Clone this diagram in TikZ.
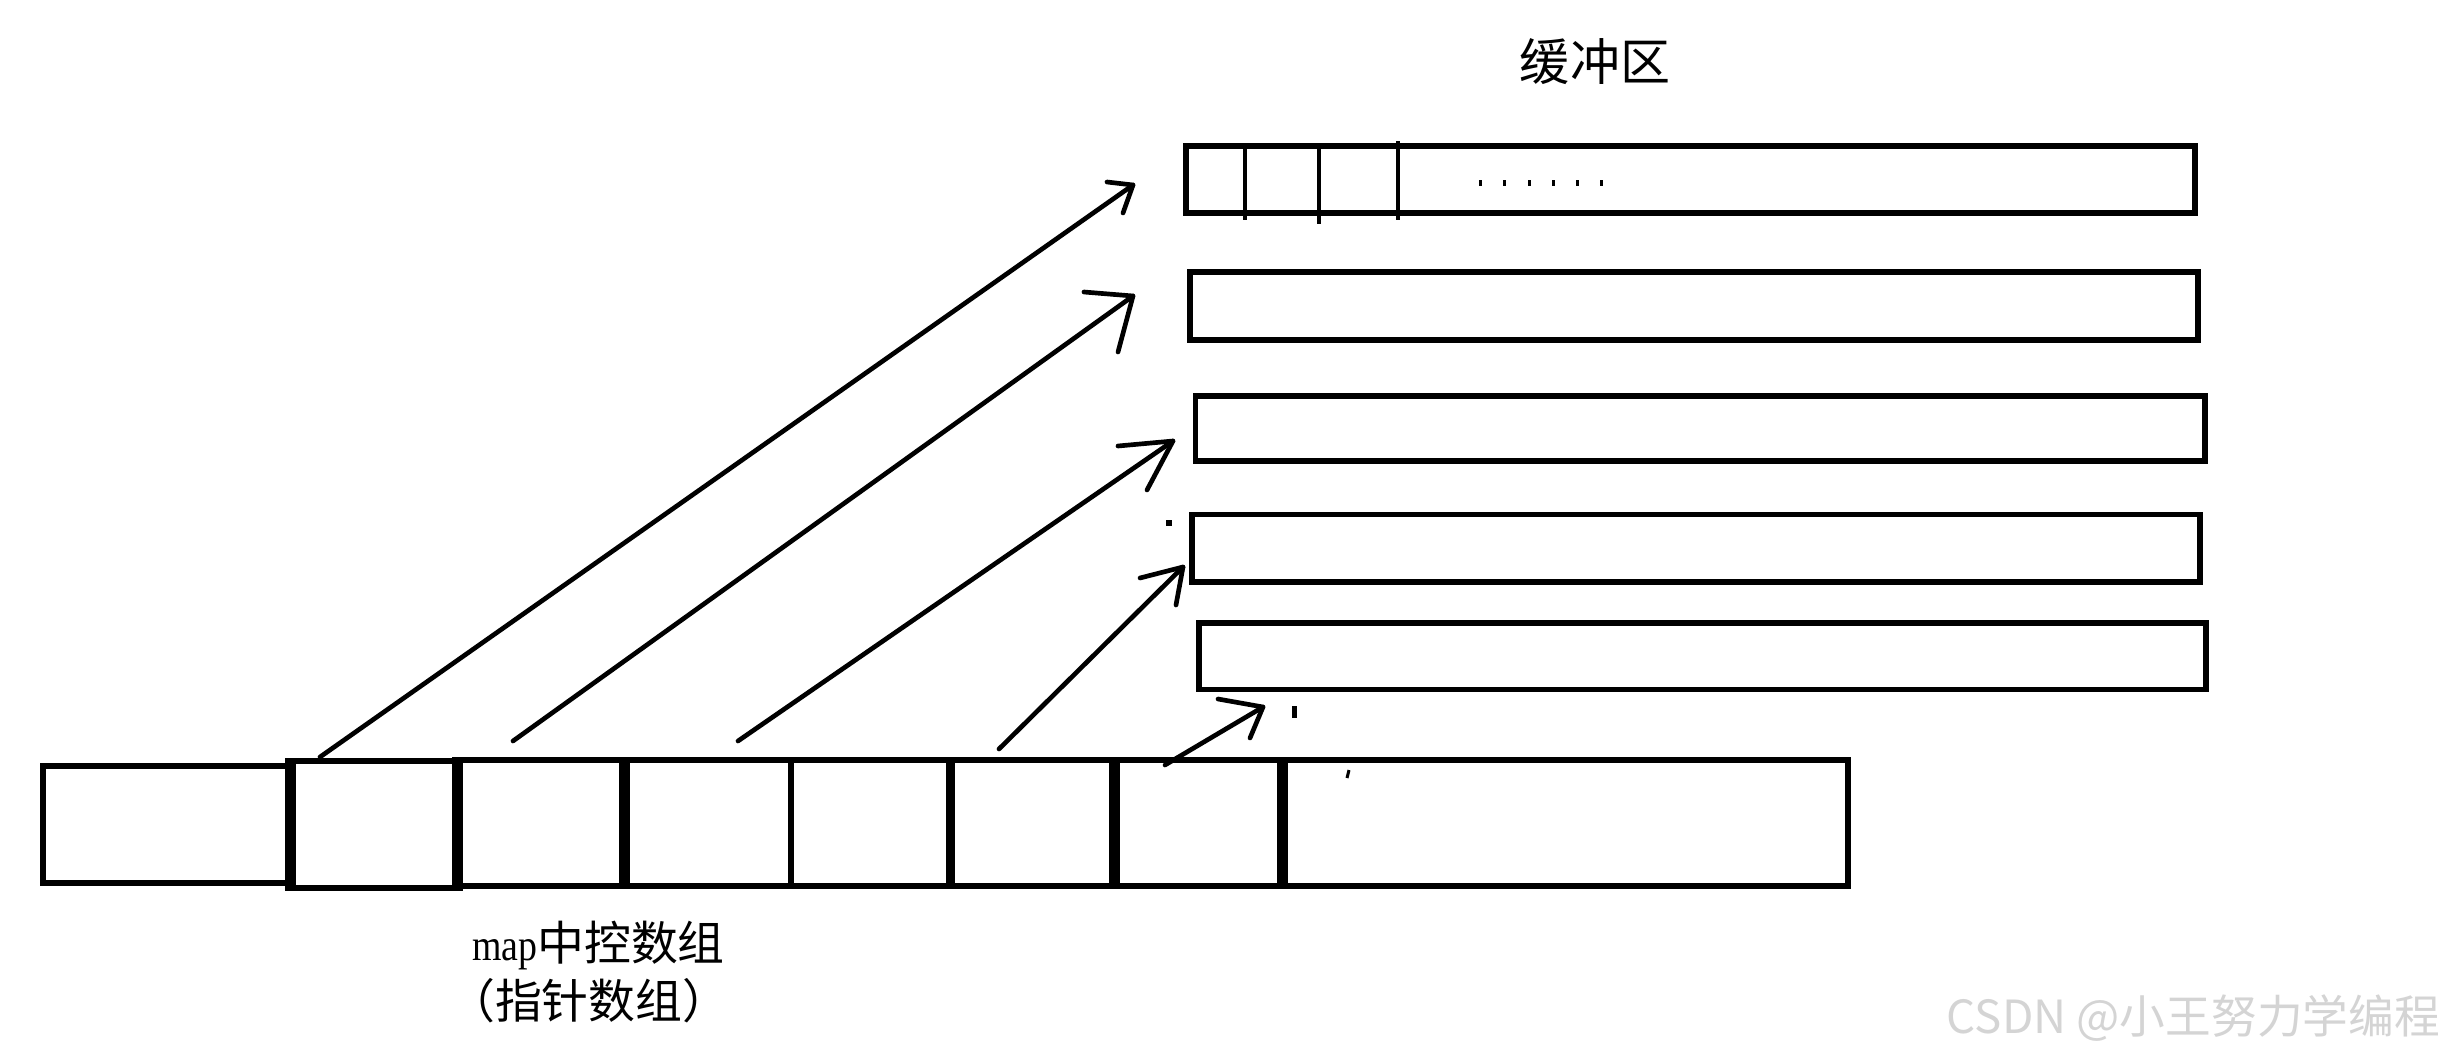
\documentclass[tikz,border=0pt]{standalone}
\usepackage{fontspec}
\newfontfamily\cjk{Noto Sans CJK SC}
\newfontfamily\serifl[FakeStretch=0.85]{Liberation Serif}
\usetikzlibrary{fit}
\definecolor{wmgray}{RGB}{212,212,212}
\begin{document}
\begin{tikzpicture}[x=0.3mm,y=-0.3mm,
  cellbox/.style={draw,line width=1.8mm,inner sep=0pt},
  bufbox/.style={draw,line width=1.6mm,inner sep=0pt},
  divthick/.style={line width=3.2mm},
  divmid/.style={line width=2.1mm},
  bufdiv/.style={line width=1.4mm},
  arrowline/.style={line width=1.4mm,line cap=round,line join=round},
  lbl/.style={inner sep=0pt}]
\fill[white] (0,0) rectangle (2447,1059);
\useasboundingbox (0,0) rectangle (2447,1059);

% ---- bottom array (map control array) ----
\node[cellbox,fit={(43,766)(293,883)}] (c0) {};
\node[cellbox,fit={(293,761)(460,888)}] (c1) {};
\node[cellbox,fit={(460,760)(627,886)}] (c2) {};
\node[cellbox,fit={(627,760)(791,886)}] (c3) {};
\node[cellbox,fit={(791,760)(952,886)}] (c4) {};
\node[cellbox,fit={(952,760)(1117,886)}] (c5) {};
\node[cellbox,fit={(1117,760)(1285,886)}] (c6) {};
\node[cellbox,fit={(1285,760)(1848,886)}] (c7) {};
\draw[divthick] (c1.north west) -- (c1.south west);
\draw[divthick] (c2.north west) -- (c2.south west);
\draw[divthick] (c3.north west) -- (c3.south west);
\draw[divmid]   (c5.north west) -- (c5.south west);
\draw[divthick] (c6.north west) -- (c6.south west);
\draw[divthick] (c7.north west) -- (c7.south west);

% ---- buffers ----
\node[bufbox,fit={(1186,146)(2195,213)}] (b1) {};
\node[bufbox,fit={(1190,272)(2198,340)}] (b2) {};
\node[bufbox,fit={(1195.5,396)(2205,461)}] (b3) {};
\node[bufbox,fit={(1192,514.5)(2200,582)}] (b4) {};
\node[bufbox,fit={(1199,623)(2206,689.5)}] (b5) {};
\draw[bufdiv] (1245,146) -- (1245,220);
\draw[bufdiv] (1319,146) -- (1319,224);
\draw[bufdiv] (1398,141) -- (1398,220);
\foreach \xx in {1480,1504,1529,1553,1577,1601}
  \fill (\xx-1.5,180) rectangle (\xx+1.5,186);

% ---- arrows ----
\coordinate (a1s) at (320,757);  \coordinate (a1t) at (1133,185);
\coordinate (a1h) at (1107,182); \coordinate (a1v) at (1123,213);
\coordinate (a2s) at (513,741);  \coordinate (a2t) at (1133,296);
\coordinate (a2h) at (1084,292); \coordinate (a2v) at (1118,352);
\coordinate (a3s) at (738,741);  \coordinate (a3t) at (1173,441);
\coordinate (a3h) at (1118,446); \coordinate (a3v) at (1147,490);
\coordinate (a4s) at (999,749);  \coordinate (a4t) at (1183,567);
\coordinate (a4h) at (1140,578); \coordinate (a4v) at (1176,605);
\coordinate (a5s) at (1165,765); \coordinate (a5t) at (1263,707);
\coordinate (a5h) at (1218,699); \coordinate (a5v) at (1250,738);
\foreach \i in {1,...,5}{
  \draw[arrowline] (a\i s) -- (a\i t);
  \draw[arrowline] (a\i h) -- (a\i t) -- (a\i v);
}

% ---- stray marks ----
\fill (1166,520) rectangle (1172,526);
\fill (1292,706) rectangle (1297,718);
\draw[line width=0.9mm] (1349,770) -- (1347,778);

% ---- texts ----
\node[lbl,anchor=base,font=\cjk\fontsize{42.7pt}{48pt}\selectfont] (title) at (1595,81) {缓冲区};
\node[lbl,anchor=base west] (lbl1) at (472,960)
  {{\serifl\fontsize{38pt}{44pt}\selectfont map}{\cjk\fontsize{40pt}{48pt}\selectfont 中控数组}};
\node[lbl,anchor=base west,font=\cjk\fontsize{40pt}{48pt}\selectfont] (lbl2) at (448,1018) {（指针数组）};
\node[lbl,anchor=base east,text=wmgray,font=\cjk\fontsize{39pt}{46pt}\selectfont] (wm) at (2440,1033) {CSDN @小王努力学编程};
\end{tikzpicture}
\end{document}
